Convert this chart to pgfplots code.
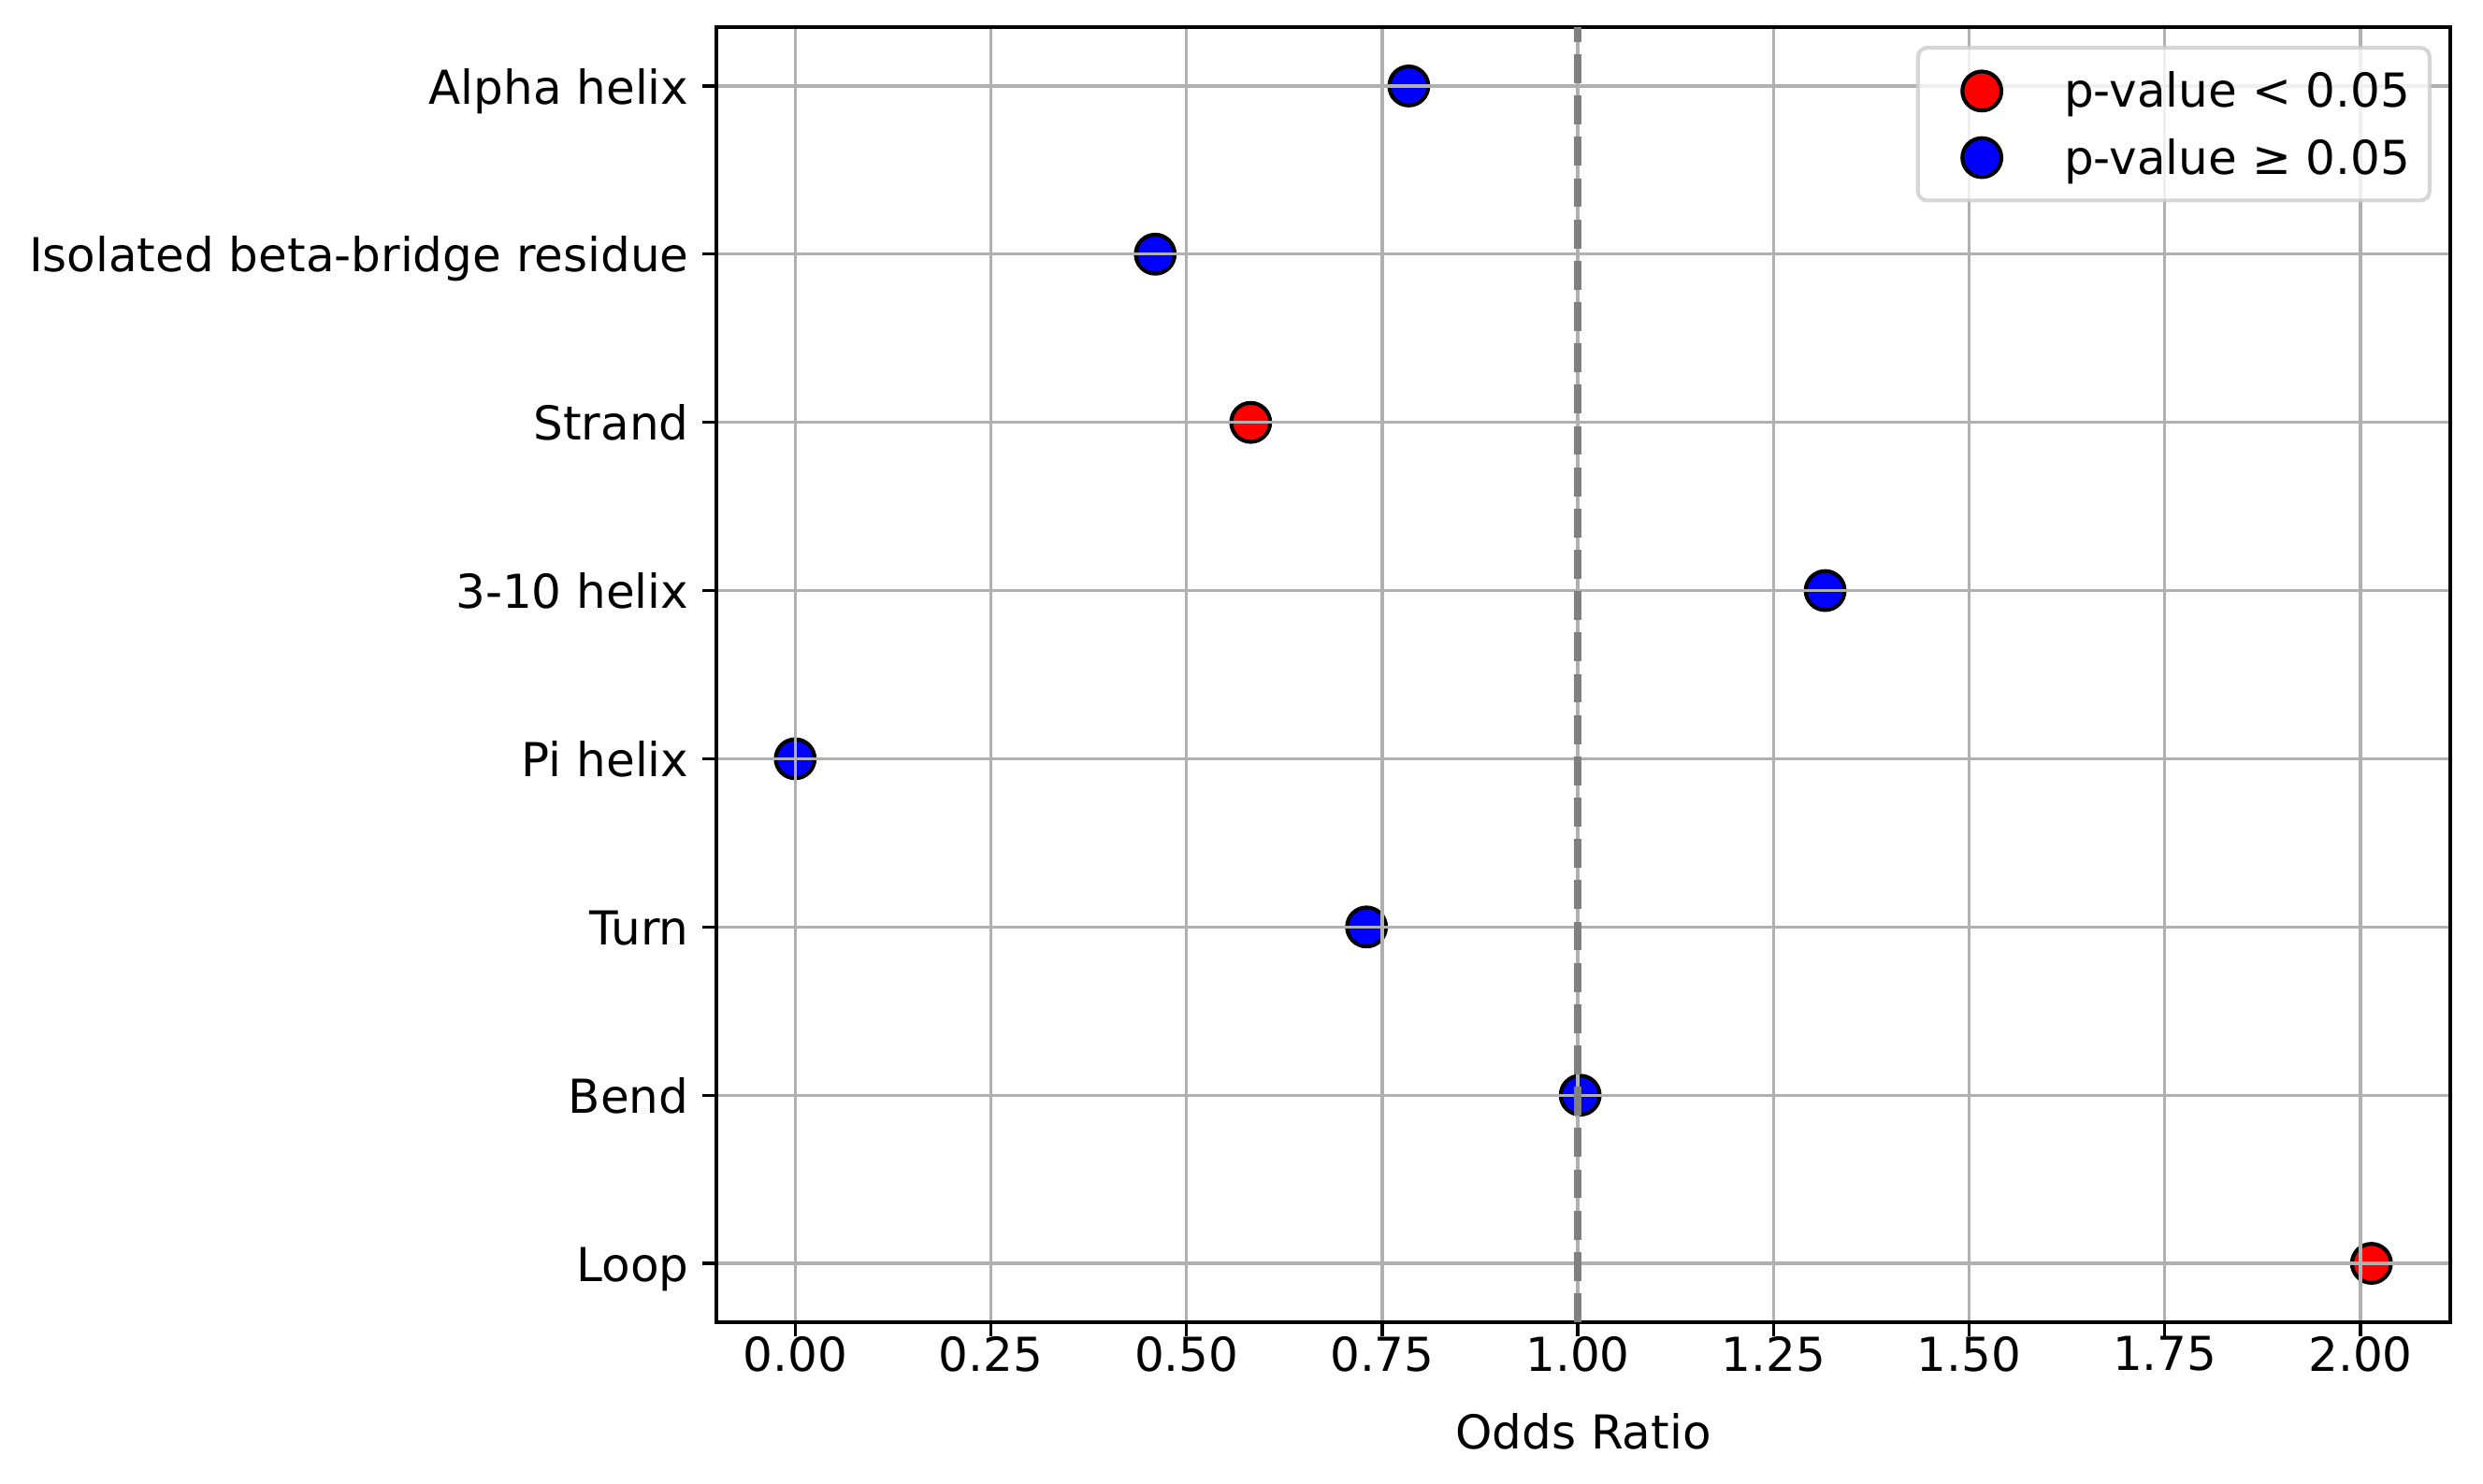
\documentclass[border=0pt]{standalone}
\usepackage{fontspec}
\setmainfont{DejaVu Sans}
\usepackage{pgfplots}
\pgfplotsset{compat=1.18}
\definecolor{gridc}{HTML}{B0B0B0}
\definecolor{vline}{HTML}{808080}
\definecolor{legedge}{HTML}{CCCCCC}
\begin{document}
\fontsize{12bp}{14.4bp}\selectfont
\begin{tikzpicture}
\begin{axis}[
  set layers=axis on top,
  scale only axis, width=444.96bp, height=332.4bp,
  xmin=-0.1007, xmax=2.1147, ymin=-0.35, ymax=7.35, y dir=reverse,
  xtick={0,0.25,0.5,0.75,1,1.25,1.5,1.75,2},
  xticklabels={0.00,0.25,0.50,0.75,1.00,1.25,1.50,1.75,2.00},
  ytick={0,1,2,3,4,5,6,7},
  yticklabels={Alpha helix,Isolated beta-bridge residue,Strand,3-10 helix,Pi helix,Turn,Bend,Loop},
  tick pos=left, tick align=outside, major tick length=3.5bp,
  every tick/.style={black, line width=0.8bp},
  axis line style={line width=0.8bp, black},
  grid=major, major grid style={gridc, line width=0.8bp},
  ticklabel style={font=\fontsize{12bp}{14.4bp}\selectfont, inner sep=0pt},
  yticklabel style={anchor=base east, yshift=-4.6bp, xshift=-3.4bp},
  xlabel={Odds Ratio},
  xlabel style={font=\fontsize{12bp}{14.4bp}\selectfont, inner sep=0pt, at={(axis description cs:0.5,0)}, anchor=north, yshift=-23.1bp},
  legend style={at={(axis description cs:1,1)}, anchor=north east, xshift=-4.8bp, yshift=-4.8bp,
    draw=legedge, line width=1bp, fill=white, fill opacity=0.8, draw opacity=0.8, text opacity=1,
    rounded corners=2.4bp, inner xsep=5bp, inner ysep=2.5bp, column sep=11.5bp, row sep=0pt,
    nodes={inner sep=0pt, font=\fontsize{12bp}{14.4bp}\selectfont},
    cells={anchor=base west}},
  legend image code/.code={%
    \path[draw=none, fill=none] (0bp,-4.3bp) rectangle (21bp,12.8bp);
    \draw[#1, fill opacity=1, draw opacity=1, rounded corners=0pt] plot coordinates {(11.4bp,4.2bp)};
  },
]
\addplot[only marks, mark=*, mark size=5bp, mark options={fill=red, draw=black, line width=1bp}]
  coordinates {(0.582,2) (2.014,7)};
\addplot[only marks, mark=*, mark size=5bp, mark options={fill=blue, draw=black, line width=1bp}]
  coordinates {(0.784,0) (0.460,1) (1.316,3) (0.0,4) (0.730,5) (1.003,6)};
\addplot[on layer=axis foreground, vline, line width=2bp, dash pattern=on 7.4bp off 3.2bp, forget plot]
  coordinates {(1,7.35) (1,-0.35)};
\legend{p-value < 0.05, p-value ≥ 0.05}
\end{axis}
\path (current axis.south west) ++(-183.84bp,-41.52bp) coordinate (bl);
\path (current axis.north east) ++(8.4bp,6.96bp) coordinate (tr);
\path (bl) rectangle (tr);
\end{tikzpicture}
\end{document}
